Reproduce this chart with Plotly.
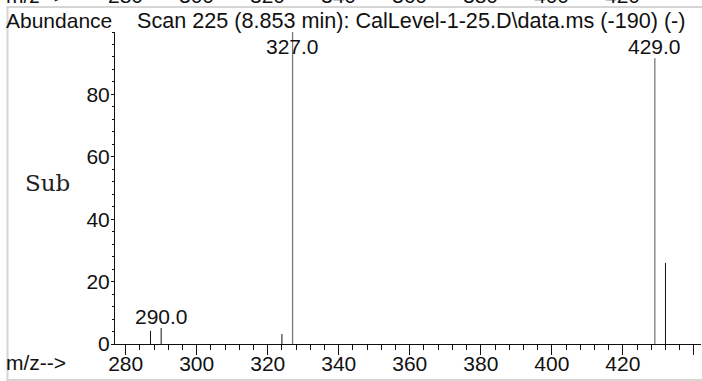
import plotly.graph_objects as go

# ---- data ----
mz = [287, 290, 324, 327, 429, 432]
abundance = [4.2, 5.1, 3.2, 100.0, 91.6, 26.0]
labelled_mz = [290, 327, 429]
labelled_text = ["290.0", "327.0", "429.0"]
x_tick_vals = [280, 300, 320, 340, 360, 380, 400, 420, 440]
x_tick_text = ["280", "300", "320", "340", "360", "380", "400", "420", ""]
y_tick_vals = [0, 20, 40, 60, 80]
y_tick_text = ["0", "20", "40", "60", "80"]
top_panel_ticks = [280, 300, 320, 340, 360, 380, 400, 420]
title_left = "Abundance"
title_main = "Scan 225 (8.853 min): CalLevel-1-25.D\\data.ms (-190) (-)"
sub_label = "Sub"
x_title = "m/z-->"

# ---- layout constants (page pixels) ----
W, H = 702, 381
ML, MR, MT, MB = 115, 1, 32, 37
PW, PH = W - ML - MR, H - MT - MB
FONT = "Liberation Sans, Arial, sans-serif"
FS = 21
LABEL_CAP = 91.6
FRAME = "#d6d6d6"


def px_x(p):
    return (p - ML) / PW


def px_y(p):
    return (MT + PH - p) / PH


fig = go.Figure()

# peaks: big labelled ones drawn grey, small ones black
major = {327, 429}
for color, width, sel in [("#7a7a7a", 1.3, lambda m: m in major),
                          ("#111111", 1.0, lambda m: m not in major)]:
    xs, ys = [], []
    for m, a in zip(mz, abundance):
        if sel(m):
            xs += [m, m, None]
            ys += [0, a, None]
    fig.add_trace(go.Scatter(x=xs, y=ys, mode="lines",
                             line=dict(color=color, width=width),
                             hoverinfo="skip", showlegend=False))

annotations = []
for m, t in zip(labelled_mz, labelled_text):
    a = abundance[mz.index(m)]
    annotations.append(dict(x=m, y=min(a, LABEL_CAP), xref="x", yref="y",
                            text=t, showarrow=False, yanchor="bottom",
                            yshift=-2, font=dict(family=FONT, size=FS, color="#111")))

# titles
annotations.append(dict(x=px_x(4), y=px_y(21), xref="paper", yref="paper",
                        text=title_left, showarrow=False, xanchor="left",
                        yanchor="middle", font=dict(family=FONT, size=FS, color="#111")))
annotations.append(dict(x=px_x(135), y=px_y(21), xref="paper", yref="paper",
                        text=title_main, showarrow=False, xanchor="left",
                        yanchor="middle", font=dict(family=FONT, size=21.6, color="#111")))
annotations.append(dict(x=px_x(4), y=px_y(362), xref="paper", yref="paper",
                        text=x_title, showarrow=False, xanchor="left",
                        yanchor="middle", font=dict(family=FONT, size=FS, color="#111")))
annotations.append(dict(x=px_x(47), y=px_y(183), xref="paper", yref="paper",
                        text=sub_label, showarrow=False, xanchor="center",
                        yanchor="middle",
                        font=dict(family="DejaVu Serif", size=23, color="#222")))

# clipped axis labels of the panel above
annotations.append(dict(x=px_x(4), y=px_y(-4), xref="paper", yref="paper",
                        text=x_title, showarrow=False, xanchor="left",
                        yanchor="middle", font=dict(family=FONT, size=FS, color="#111")))
for v in top_panel_ticks:
    annotations.append(dict(x=v, y=px_y(-4), xref="x", yref="paper",
                            text=str(v), showarrow=False, xanchor="center",
                            yanchor="middle", font=dict(family=FONT, size=FS, color="#111")))

shapes = [
    dict(type="line", xref="paper", yref="paper", x0=px_x(6.5), x1=px_x(W + 5),
         y0=px_y(7), y1=px_y(7), line=dict(color=FRAME, width=2)),
    dict(type="line", xref="paper", yref="paper", x0=px_x(7.5), x1=px_x(7.5),
         y0=px_y(6), y1=px_y(H + 5), line=dict(color=FRAME, width=2)),
    dict(type="line", xref="paper", yref="paper", x0=px_x(6.5), x1=px_x(W + 5),
         y0=px_y(380), y1=px_y(380), line=dict(color=FRAME, width=2)),
]

fig.update_layout(
    template="none",
    width=W, height=H,
    margin=dict(l=ML, r=MR, t=MT, b=MB, pad=0),
    plot_bgcolor="white", paper_bgcolor="white",
    showlegend=False,
    annotations=annotations, shapes=shapes,
    font=dict(family=FONT, size=FS, color="#111"),
    xaxis=dict(range=[277, 442], showgrid=False, zeroline=False, automargin=False,
               showline=True, linecolor="#111", linewidth=1,
               ticks="outside", ticklen=10, tickcolor="#111", tickwidth=1,
               ticklabelstandoff=-9,
               tickvals=x_tick_vals, ticktext=x_tick_text,
               tickfont=dict(family=FONT, size=FS, color="#111"),
               minor=dict(tick0=280, dtick=4, ticks="outside", ticklen=5,
                          tickcolor="#111", tickwidth=1, showgrid=False),
               fixedrange=True),
    yaxis=dict(range=[0, 100], showgrid=False, zeroline=False, automargin=False,
               showline=True, linecolor="#111", linewidth=1,
               ticks="outside", ticklen=3, tickcolor="#111", tickwidth=1,
               ticklabelstandoff=-3,
               tickvals=y_tick_vals, ticktext=y_tick_text,
               tickfont=dict(family=FONT, size=FS, color="#111"),
               minor=dict(tick0=0, dtick=4, ticks="outside", ticklen=2,
                          tickcolor="#111", tickwidth=1, showgrid=False),
               fixedrange=True),
)

fig.write_html("out.html",
               config={"displayModeBar": False, "staticPlot": True},
               post_script="document.body.style.margin='0';"
                           "document.body.style.overflow='hidden';")
